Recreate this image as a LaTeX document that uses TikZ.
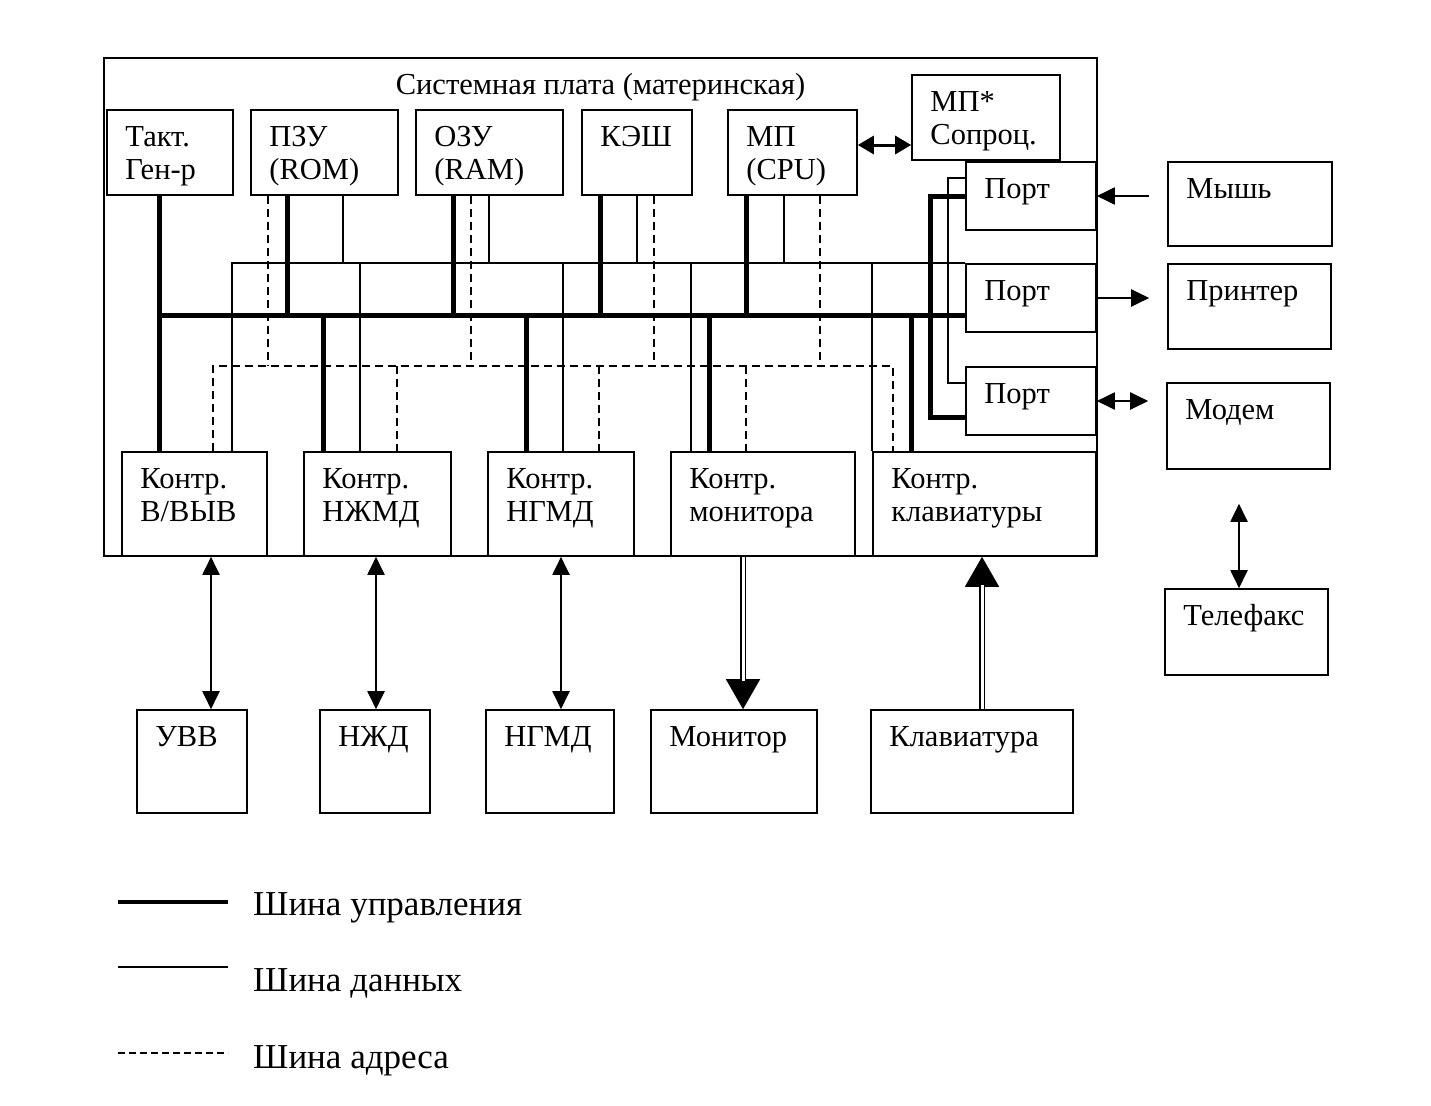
\documentclass[tikz,border=0pt]{standalone}
\usepackage{fontspec}
\setmainfont{Liberation Serif}
\usetikzlibrary{arrows.meta,fit}
\tikzset{
  blk/.style={draw, line width=1.6pt, inner sep=0pt, fit={#1}},
  lbl/.style={anchor=base west, inner sep=0pt, xshift=19pt, yshift=-37pt, align=left},
  txt/.style={label={[lbl]north west:{#1}}},
  txtt/.style={label={[lbl, yshift=-33pt]north west:{#1}}},
  ctrl/.style={line width=5pt},
  data/.style={line width=1.8pt},
  addr/.style={line width=1.8pt, dash pattern=on 8pt off 5pt},
  link/.style={line width=2pt, {Triangle[length=18pt,width=17pt]}-{Triangle[length=18pt,width=17pt]}},
  tolink/.style={line width=2pt, -{Triangle[length=18pt,width=17pt]}},
  bigtip/.style={line width=1.5pt, -{Triangle[length=30pt,width=34pt]}},
  dbl/.style={line width=1.5pt, double, double distance=3pt, shorten >=28pt},
  legend/.style={anchor=base west, inner sep=0pt, font=\fontsize{35}{40}\selectfont},
}
\begin{document}
\begin{tikzpicture}[x=1pt, y=-1pt, font=\fontsize{30.5}{33}\selectfont]
  \useasboundingbox (0,0) rectangle (1431,1105);
  % system board
  \node[blk={(104,58) (1097,556)},
    label={[anchor=base, inner sep=0pt, yshift=-37pt]north:{Системная плата (материнская)}}] (board) {};
  % upper row
  \node[blk={(107,110) (233,195)}, txtt={Такт.\\Ген-р}] (clk) {};
  \node[blk={(251,110) (398,195)}, txtt={ПЗУ\\(ROM)}] (rom) {};
  \node[blk={(416,110) (563,195)}, txtt={ОЗУ\\(RAM)}] (ram) {};
  \node[blk={(582,110) (692,195)}, txt={КЭШ}] (cache) {};
  \node[blk={(728,110) (857,195)}, txtt={МП\\(CPU)}] (cpu) {};
  \node[blk={(912,75) (1060,160)}, txtt={МП*\\Сопроц.}] (fpu) {};
  % ports
  \node[blk={(966,162) (1096,230)}, txt={Порт}] (p1) {};
  \node[blk={(966,264) (1096,332)}, txt={Порт}] (p2) {};
  \node[blk={(966,367) (1096,435)}, txt={Порт}] (p3) {};
  % controllers
  \node[blk={(122,452) (267,556)}, txtt={Контр.\\В/ВЫВ}] (io) {};
  \node[blk={(304,452) (451,556)}, txtt={Контр.\\НЖМД}] (hdc) {};
  \node[blk={(488,452) (634,556)}, txtt={Контр.\\НГМД}] (fdc) {};
  \node[blk={(671,452) (855,556)}, txtt={Контр.\\монитора}] (vdc) {};
  \node[blk={(873,452) (1096,556)}, txtt={Контр.\\клавиатуры}] (kbc) {};
  % outside devices
  \node[blk={(1168,162) (1332,246)}, txt={Мышь}] (mouse) {};
  \node[blk={(1168,264) (1331,349)}, txt={Принтер}] (prn) {};
  \node[blk={(1167,383) (1330,469)}, txt={Модем}] (modem) {};
  \node[blk={(1165,589) (1328,675)}, txt={Телефакс}] (fax) {};
  \node[blk={(137,710) (247,813)}, txt={УВВ}] (uvv) {};
  \node[blk={(320,710) (430,813)}, txt={НЖД}] (hdd) {};
  \node[blk={(486,710) (614,813)}, txt={НГМД}] (fdd) {};
  \node[blk={(651,710) (817,813)}, txt={Монитор}] (mon) {};
  \node[blk={(871,710) (1073,813)}, txt={Клавиатура}] (kbd) {};
  % bus levels
  \coordinate (db) at (0,264);
  \coordinate (cb) at (0,315);
  \coordinate (ab) at (0,366);
  % control bus
  \draw[ctrl] (159,0 |- clk.south) -- (159,0 |- io.north);
  \draw[ctrl] (159,0 |- cb) -- (cb -| p2.west);
  \foreach \x/\n in {287/rom, 453/ram, 600/cache, 746/cpu}
    \draw[ctrl] (\x,0 |- \n.south) -- (\x,0 |- cb);
  \foreach \x/\n in {323/hdc, 526/fdc, 709/vdc, 911/kbc}
    \draw[ctrl] (\x,0 |- cb) -- (\x,0 |- \n.north);
  \draw[ctrl] (p1.west) -| (930,0 |- cb) |- ([yshift=-16pt]p3.west);
  % data bus
  \draw[data] (232,0 |- io.north) |- (p2.north west);
  \foreach \x/\n in {343/rom, 489/ram, 637/cache, 784/cpu}
    \draw[data] (\x,0 |- \n.south) -- (\x,0 |- db);
  \foreach \x/\n in {360/hdc, 563/fdc, 691/vdc}
    \draw[data] (\x,0 |- db) -- (\x,0 |- \n.north);
  \draw[data] (kbc.north west) -- (kbc.north west |- db);
  \draw[data] ([yshift=18pt]p1.west) -| (948,0 |- db) |- ([yshift=18pt]p3.west);
  % address bus
  \draw[addr] (213,0 |- io.north) |- (893,0 |- ab) -- (893,0 |- kbc.north);
  \foreach \x/\n in {268/rom, 471/ram, 654/cache, 820/cpu}
    \draw[addr] (\x,0 |- \n.south) -- (\x,0 |- ab);
  \foreach \x/\n in {397/hdc, 599/fdc, 746/vdc}
    \draw[addr] (\x,0 |- ab) -- (\x,0 |- \n.north);
  % links
  \draw[line width=3pt, {Triangle[length=16pt,width=18pt]}-{Triangle[length=16pt,width=18pt]}]
    (cpu.east |- 0,145) -- (fpu.west |- 0,145);
  \draw[tolink, shorten <=18pt] (p1.east -| mouse.west) -- (p1.east);
  \draw[tolink, shorten >=18pt] (p2.east) -- (p2.east -| prn.west);
  \draw[link, shorten >=18pt] (p3.east) -- (p3.east -| modem.west);
  \draw[link, shorten <=34pt] (1239,0 |- modem.south) -- (1239,0 |- fax.north);
  \foreach \x/\a/\b in {211/io/uvv, 376/hdc/hdd, 561/fdc/fdd}
    \draw[link] (\x,0 |- \a.south) -- (\x,0 |- \b.north);
  \draw[bigtip] (743,0 |- vdc.south) -- (743,0 |- mon.north);
  \draw[dbl] (743,0 |- vdc.south) -- (743,0 |- mon.north);
  \draw[bigtip] (982,0 |- kbd.north) -- (982,0 |- kbc.south);
  \draw[dbl] (982,0 |- kbd.north) -- (982,0 |- kbc.south);
  % legend
  \node[legend] (lc) at (253,915) {Шина управления};
  \node[legend] (ld) at (253,991) {Шина данных};
  \node[legend] (la) at (253,1068) {Шина адреса};
  \draw[line width=4.5pt] ([xshift=-135pt,yshift=13pt]lc.base west) -- ++(110,0);
  \draw[line width=2.5pt] ([xshift=-135pt,yshift=24pt]ld.base west) -- ++(110,0);
  \draw[line width=1.8pt, dash pattern=on 7pt off 4pt] ([xshift=-135pt,yshift=15pt]la.base west) -- ++(110,0);
\end{tikzpicture}
\end{document}
